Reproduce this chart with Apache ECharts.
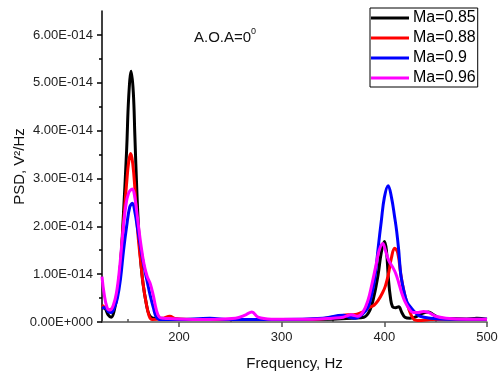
<!DOCTYPE html>
<html>
<head>
<meta charset="utf-8">
<script src="https://cdn.jsdelivr.net/npm/echarts@6/dist/echarts.min.js"></script>
<style>
  html, body { margin: 0; padding: 0; background: #fff; }
  #main { width: 499px; height: 374px; }
</style>
</head>
<body>
<div id="main"></div>
<script>
// PSD values are in units of 1E-014 V^2/Hz, frequency in Hz
const seriesNames = ["Ma=0.85", "Ma=0.88", "Ma=0.9", "Ma=0.96"];
const seriesColors = ["#000000", "#ff0000", "#0000ff", "#ff00ff"];

const ma085 = [
  [125, 0.3], [128, 0.28], [131, 0.15], [134, 0.1], [137, 0.25], [140, 0.6], [143, 1.2],
  [146, 2.3], [149, 3.6], [151, 4.7], [153.4, 5.24], [155.5, 4.8], [157, 3.9], [159, 2.7],
  [161, 1.8], [163, 1.2], [165, 0.8], [168, 0.4], [171, 0.15], [175, 0.08], [180, 0.08],
  [200, 0.06], [250, 0.05], [300, 0.05], [350, 0.06], [370, 0.08], [380, 0.1], [386, 0.25],
  [390, 0.55], [394, 1.0], [397, 1.45], [400, 1.68], [402, 1.5], [404, 0.9], [406, 0.5],
  [408, 0.32], [411, 0.3], [414, 0.32], [417, 0.2], [420, 0.1], [425, 0.08], [430, 0.1],
  [437, 0.18], [443, 0.21], [448, 0.15], [455, 0.08], [465, 0.07], [480, 0.06], [490, 0.08],
  [500, 0.06]
];
const ma088 = [
  [125, 0.35], [128, 0.3], [131, 0.25], [134, 0.27], [137, 0.35], [140, 0.6], [143, 1.2],
  [146, 2.1], [149, 2.9], [151, 3.35], [153, 3.52], [155, 3.3], [157, 2.8], [159, 2.1],
  [161, 1.6], [163, 1.2], [165, 0.8], [168, 0.4], [171, 0.12], [174, 0.05], [185, 0.08],
  [191, 0.12], [197, 0.07], [220, 0.05], [260, 0.05], [300, 0.05], [340, 0.07], [355, 0.12],
  [365, 0.15], [370, 0.15], [378, 0.2], [385, 0.3], [390, 0.35], [394, 0.45], [398, 0.6],
  [401, 0.75], [404, 1.0], [407, 1.35], [410, 1.54], [413, 1.45], [416, 1.0], [419, 0.65],
  [422, 0.4], [426, 0.15], [430, 0.04], [436, 0.03], [445, 0.05], [460, 0.06], [480, 0.06],
  [500, 0.05]
];
const ma090 = [
  [125, 0.3], [128, 0.3], [131, 0.22], [134, 0.2], [137, 0.3], [140, 0.5], [143, 0.9],
  [146, 1.5], [149, 2.0], [152, 2.4], [154.6, 2.48], [157, 2.3], [160, 1.9], [163, 1.5],
  [166, 1.15], [169, 0.85], [172, 0.55], [175, 0.3], [178, 0.1], [182, 0.05], [200, 0.05],
  [230, 0.08], [250, 0.05], [300, 0.05], [340, 0.08], [360, 0.14], [366, 0.1], [372, 0.08],
  [378, 0.15], [384, 0.3], [388, 0.6], [391, 0.95], [394, 1.55], [397, 2.1], [400, 2.6],
  [403.7, 2.85], [407, 2.6], [410, 2.2], [412, 1.9], [414, 1.5], [416, 1.0], [419, 0.65],
  [422, 0.42], [426, 0.3], [430, 0.2], [435, 0.12], [445, 0.08], [460, 0.06], [480, 0.06],
  [500, 0.06]
];
const ma096 = [
  [125, 0.95], [127, 0.6], [130, 0.3], [133, 0.25], [136, 0.35], [139, 0.6], [142, 1.1],
  [145, 1.8], [148, 2.4], [151, 2.7], [154.5, 2.78], [157, 2.6], [160, 2.1], [163, 1.6],
  [166, 1.2], [169, 0.95], [172, 0.8], [175, 0.55], [178, 0.25], [181, 0.1], [185, 0.08],
  [220, 0.05], [255, 0.08], [265, 0.15], [271, 0.21], [277, 0.1], [290, 0.06], [330, 0.06],
  [350, 0.08], [360, 0.1], [368, 0.15], [374, 0.12], [379, 0.2], [384, 0.45], [388, 0.8],
  [392, 1.2], [395, 1.5], [398.5, 1.64], [401, 1.5], [404, 1.3], [408, 1.15], [411, 1.02],
  [414, 0.82], [417, 0.6], [420, 0.43], [424, 0.28], [428, 0.2], [433, 0.2], [438, 0.22],
  [443, 0.2], [450, 0.12], [460, 0.08], [480, 0.06], [500, 0.06]
];
const seriesData = [ma085, ma088, ma090, ma096];

const xMajorTicks = [200, 300, 400, 500];
const xMinorTicks = [150, 250, 350, 450];
const yMajorTicks = [0, 1, 2, 3, 4, 5, 6];
const yMinorTicks = [0.5, 1.5, 2.5, 3.5, 4.5, 5.5];

const font = "Liberation Sans";
const grid = { left: 102, top: 11, right: 12, bottom: 52, outerBoundsMode: "none" };

const chart = echarts.init(document.getElementById("main"));

const seriesList = seriesNames.map((name, i) => ({
  type: "line",
  name: name,
  data: seriesData[i],
  smooth: 0.4,
  showSymbol: false,
  lineStyle: { color: seriesColors[i], width: 3 },
  itemStyle: { color: seriesColors[i] },
  z: 2 + i
}));

const option = {
  animation: false,
  backgroundColor: "#fff",
  title: {
    text: "A.O.A=0{sup|0}",
    left: 189,
    top: 22,
    textStyle: {
      fontFamily: font,
      fontSize: 15,
      fontWeight: "normal",
      color: "#111",
      rich: { sup: { fontSize: 9, verticalAlign: "top", lineHeight: 22, fontFamily: font, color: "#111" } }
    }
  },
  legend: {
    orient: "vertical",
    left: 370,
    top: 8,
    padding: [2, 2, 1, 1],
    itemGap: 4,
    itemWidth: 38,
    itemHeight: 3,
    icon: "rect",
    borderColor: "#000",
    borderWidth: 1,
    textStyle: { fontFamily: font, fontSize: 16, color: "#000", padding: [0, 0, 0, -1] },
    data: seriesNames
  },
  grid: grid,
  xAxis: [
    {
      type: "value",
      min: 125,
      max: 500,
      name: "Frequency, Hz",
      nameLocation: "middle",
      nameGap: 34,
      nameTextStyle: { fontFamily: font, fontSize: 15, color: "#111" },
      axisLine: { show: true, lineStyle: { color: "#555", width: 1.5 } },
      axisTick: { show: true, length: 5, customValues: xMajorTicks, lineStyle: { color: "#555", width: 1.5 } },
      axisLabel: { customValues: xMajorTicks, fontFamily: font, fontSize: 13, color: "#222", margin: 9 },
      splitLine: { show: false }
    },
    {
      type: "value",
      min: 125,
      max: 500,
      axisLine: { show: false },
      axisTick: { show: true, length: 3, customValues: xMinorTicks, lineStyle: { color: "#555", width: 1.5 } },
      axisLabel: { show: false },
      splitLine: { show: false }
    }
  ],
  yAxis: [
    {
      type: "value",
      min: 0,
      max: 6.5,
      name: "PSD, V\u00b2/Hz",
      nameLocation: "middle",
      nameGap: 75,
      nameMoveOverlap: false,
      nameTextStyle: { fontFamily: font, fontSize: 15, color: "#111" },
      axisLine: { show: true, lineStyle: { color: "#000", width: 1.5 } },
      axisTick: { show: true, length: 5, customValues: yMajorTicks, lineStyle: { color: "#000", width: 1.5 } },
      axisLabel: {
        customValues: yMajorTicks,
        fontFamily: font,
        fontSize: 13,
        color: "#222",
        margin: 9,
        formatter: (v) => (v === 0 ? "0.00E+000" : v.toFixed(2) + "E-014")
      },
      splitLine: { show: false }
    },
    {
      type: "value",
      min: 0,
      max: 6.5,
      position: "left",
      axisLine: { show: false },
      axisTick: { show: true, length: 3, customValues: yMinorTicks, lineStyle: { color: "#000", width: 1.5 } },
      axisLabel: { show: false },
      splitLine: { show: false }
    }
  ],
  series: seriesList
};

chart.setOption(option);
</script>
</body>
</html>
